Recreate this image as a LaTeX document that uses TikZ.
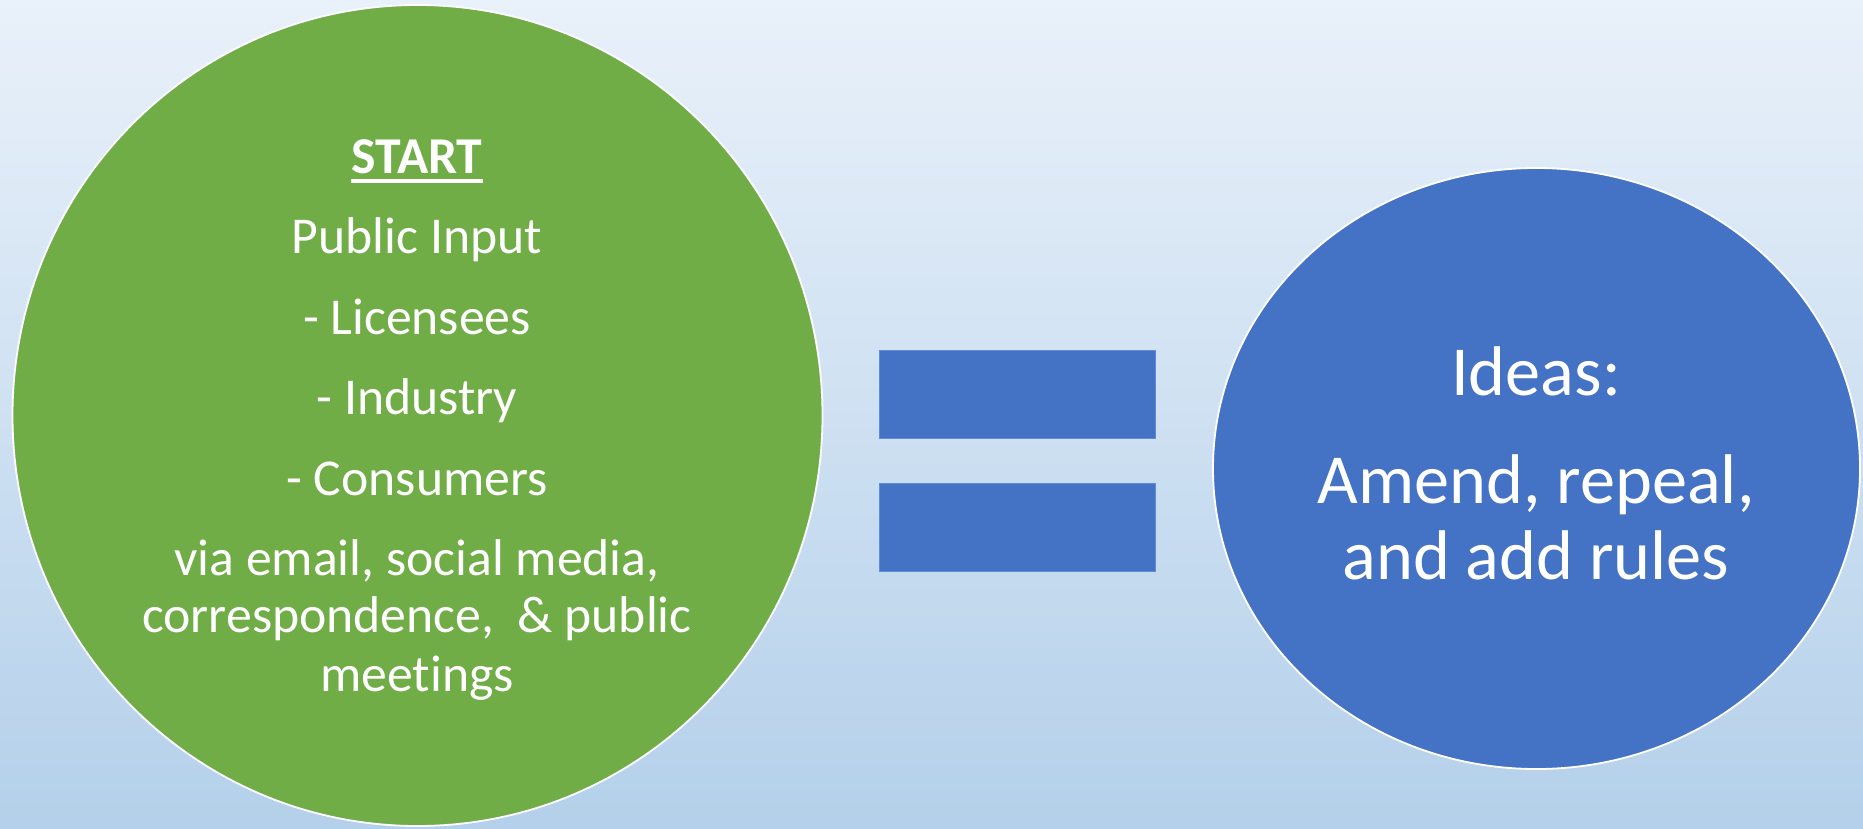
\documentclass[tikz,border=0pt]{standalone}
\usepackage{fontspec}
\setmainfont{Carlito}[Ligatures=NoCommon]
\usetikzlibrary{shapes.geometric}
\definecolor{bgtop}{RGB}{233,241,250}
\definecolor{bgbot}{RGB}{180,208,234}
\definecolor{ogreen}{RGB}{112,173,71}
\definecolor{oblue}{RGB}{68,114,196}
\definecolor{oedge}{RGB}{96,140,212}
\tikzset{
  bubble/.style={ellipse, draw=white, line width=1.8pt, inner sep=0pt},
  bar/.style={rectangle, fill=oblue, draw=oedge, line width=1pt, inner sep=0pt, minimum width=276pt, minimum height=88pt},
  gtext/.style={anchor=base, inner sep=0pt, text=white, font=\fontsize{51.7}{62}\selectfont},
  btext/.style={anchor=base, inner sep=0pt, text=white, font=\fontsize{70.3}{84}\selectfont}
}
\begin{document}
\begin{tikzpicture}[x=1pt,y=-1pt]
\useasboundingbox (0,0) rectangle (1863,828);
\shade[top color=bgtop, bottom color=bgbot] (0,0) rectangle (1863,828);
% left green ellipse
\node[bubble, fill=ogreen, minimum width=810pt, minimum height=821pt] (start) at (417.5,415.5) {};
\node[gtext, font=\fontsize{51.7}{62}\selectfont\bfseries] (title) at (417,173) {START};
\draw[white, line width=3.4pt] ([yshift=-8pt]title.base west) -- ([yshift=-8pt]title.base east);
\node[gtext] (l1) at (417,253) {Public Input};
\node[gtext] (l2) at (417,334) {- Licensees};
\node[gtext] (l3) at (417,414) {- Industry};
\node[gtext] (l4) at (417,495) {- Consumers};
\node[gtext] (l5) at (417,575) {via email, social media,};
\node[gtext] (l6) at (417,632) {correspondence,~ \& public};
\node[gtext] (l7) at (417,691) {meetings};
% equals sign
\node[bar] (eqtop) at (1017,394.5) {};
\node[bar] (eqbot) at (1017,527) {};
% right blue ellipse
\node[bubble, fill=oblue, minimum width=647pt, minimum height=601pt] (ideas) at (1536.5,468.5) {};
\node[btext] (r1) at (1536,395) {Ideas:};
\node[btext] (r2) at (1536,503) {Amend, repeal,};
\node[btext] (r3) at (1536,579) {and add rules};
\end{tikzpicture}
\end{document}
